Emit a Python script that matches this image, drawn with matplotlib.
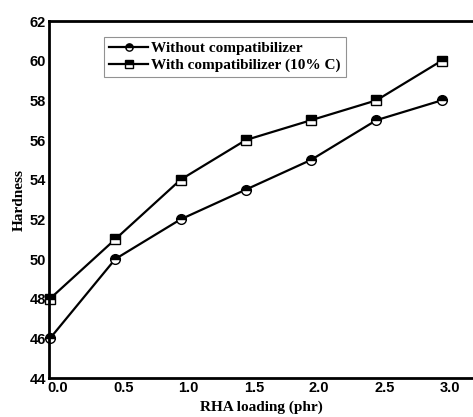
import matplotlib
matplotlib.use("Agg")
import matplotlib.pyplot as plt
import matplotlib.transforms as mtransforms

rha = [0.0, 0.5, 1.0, 1.5, 2.0, 2.5, 3.0]
without_c = [46, 50, 52, 53.5, 55, 57, 58]
with_c = [48, 51, 54, 56, 57, 58, 60]
xticks = [0.0, 0.5, 1.0, 1.5, 2.0, 2.5, 3.0]
yticks = [44, 46, 48, 50, 52, 54, 56, 58, 60, 62]

fig = plt.figure(figsize=(4.73, 4.17), dpi=100)
ax = fig.add_axes([0.1036, 0.0935, 0.8964, 0.8561])

mk = dict(color='black', lw=1.6, markersize=7, markeredgecolor='black',
          markerfacecolor='black', markerfacecoloralt='white',
          fillstyle='top', markeredgewidth=1.0, clip_on=False)
ax.plot(rha, without_c, marker='o', label='Without compatibilizer', **mk)
ax.plot(rha, with_c, marker='s', label='With compatibilizer (10% C)', **mk)

ax.set_xlim(-0.008, 3.24)
ax.set_ylim(44, 62)
ax.set_xticks(xticks)
ax.set_xticklabels([f'{v:.1f}' for v in xticks])
ax.set_yticks(yticks)
ax.tick_params(length=0, pad=2)
for lab in ax.get_xticklabels() + ax.get_yticklabels():
    lab.set_fontfamily('Liberation Sans')
    lab.set_fontweight('bold')
    lab.set_fontsize(10.5)
# labels sit a bit right of the points in the original
off = mtransforms.ScaledTranslation(8 / 100, 0, fig.dpi_scale_trans)
for lab in ax.get_xticklabels():
    lab.set_transform(lab.get_transform() + off)

for s in ['left', 'bottom', 'top']:
    ax.spines[s].set_linewidth(2.0)
ax.spines['right'].set_visible(False)

ax.set_xlabel('RHA loading (phr)', fontfamily='Liberation Serif',
              fontweight='bold', fontsize=11, labelpad=4)
ax.set_ylabel('Hardness', fontfamily='Liberation Serif',
              fontweight='bold', fontsize=11, labelpad=3)

leg = ax.legend(loc='upper left', bbox_to_anchor=(0.13, 0.955),
                prop={'family': 'Liberation Serif', 'weight': 'bold', 'size': 11},
                frameon=True, fancybox=False, edgecolor='#777777',
                handlelength=2.6, handletextpad=0.2, borderpad=0.3,
                labelspacing=0.2, borderaxespad=0, markerscale=0.75)
leg.get_frame().set_linewidth(0.8)

fig.savefig('out.png', dpi=100)
